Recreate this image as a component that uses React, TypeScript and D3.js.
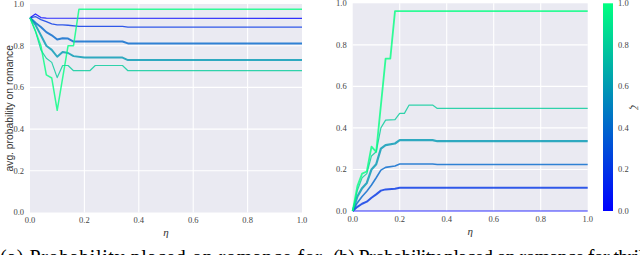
import React from "react";
import * as d3 from "d3";

// zeta value of each curve (colour), same in both panels
const zetas = [0, 0.2, 0.4, 0.6, 0.8, 1.0];
const tickValues = [0, 0.2, 0.4, 0.6, 0.8, 1.0];
const gridValues = [0.2, 0.4, 0.6, 0.8];

// (a) avg. probability on romance vs eta, one array per zeta: [eta, p]
const romanceZ0 = [[0, 0.934], [0.02, 0.952], [0.04, 0.935], [0.06, 0.932], [1.0, 0.931]];
const romanceZ2 = [[0, 0.934], [0.02, 0.94], [0.04, 0.925], [0.06, 0.915], [0.08, 0.905], [0.1, 0.9], [0.12, 0.9], [0.14, 0.898], [0.18, 0.893], [0.34, 0.893], [0.36, 0.889], [1.0, 0.889]];
const romanceZ4 = [[0, 0.934], [0.02, 0.91], [0.04, 0.89], [0.06, 0.865], [0.08, 0.85], [0.1, 0.83], [0.12, 0.836], [0.14, 0.834], [0.16, 0.82], [0.34, 0.82], [0.36, 0.811], [1.0, 0.811]];
const romanceZ6 = [[0, 0.934], [0.02, 0.9], [0.04, 0.85], [0.06, 0.8], [0.08, 0.78], [0.1, 0.747], [0.12, 0.77], [0.14, 0.765], [0.16, 0.75], [0.2, 0.743], [0.34, 0.743], [0.36, 0.731], [1.0, 0.731]];
const romanceZ8 = [[0, 0.934], [0.02, 0.87], [0.04, 0.78], [0.06, 0.74], [0.08, 0.72], [0.1, 0.647], [0.12, 0.705], [0.14, 0.705], [0.16, 0.68], [0.22, 0.68], [0.24, 0.705], [0.34, 0.705], [0.36, 0.68], [1.0, 0.68]];
const romanceZ10 = [[0, 0.934], [0.02, 0.87], [0.04, 0.8], [0.06, 0.66], [0.08, 0.645], [0.1, 0.49], [0.14, 0.8], [0.16, 0.8], [0.18, 0.975], [1.0, 0.975]];

// (b) probability placed on romance for thriller
const thrillerZ0 = [[0, 0], [1.0, 0]];
const thrillerZ2 = [[0, 0], [0.02, 0.02], [0.04, 0.035], [0.06, 0.045], [0.08, 0.064], [0.1, 0.08], [0.12, 0.098], [0.14, 0.104], [0.18, 0.107], [0.2, 0.112], [1.0, 0.112]];
const thrillerZ4 = [[0, 0], [0.02, 0.04], [0.04, 0.07], [0.06, 0.095], [0.08, 0.125], [0.1, 0.16], [0.12, 0.197], [0.14, 0.21], [0.18, 0.217], [0.2, 0.226], [0.34, 0.226], [0.36, 0.224], [1.0, 0.224]];
const thrillerZ6 = [[0, 0], [0.02, 0.07], [0.04, 0.11], [0.06, 0.135], [0.08, 0.2], [0.1, 0.225], [0.12, 0.3], [0.14, 0.317], [0.18, 0.325], [0.2, 0.341], [0.34, 0.341], [0.36, 0.336], [1.0, 0.336]];
const thrillerZ8 = [[0, 0], [0.02, 0.1], [0.04, 0.16], [0.06, 0.18], [0.08, 0.265], [0.1, 0.285], [0.12, 0.4], [0.14, 0.4375], [0.18, 0.44], [0.2, 0.47], [0.22, 0.47], [0.24, 0.51], [0.34, 0.51], [0.36, 0.494], [1.0, 0.494]];
const thrillerZ10 = [[0, 0], [0.02, 0.12], [0.04, 0.18], [0.06, 0.19], [0.08, 0.31], [0.1, 0.285], [0.14, 0.734], [0.16, 0.734], [0.18, 0.962], [1.0, 0.962]];

const romanceSeries = [romanceZ0, romanceZ2, romanceZ4, romanceZ6, romanceZ8, romanceZ10];
const thrillerSeries = [thrillerZ0, thrillerZ2, thrillerZ4, thrillerZ6, thrillerZ8, thrillerZ10];

const winter = d3.scaleLinear<string>().domain([0, 1]).range(["#0000ff", "#00ff80"]);
const serif = "'Liberation Serif', 'DejaVu Serif', serif";

function Panel({ x0, x1, y0, y1, series, widths, yLabel }) {
  const x = d3.scaleLinear().domain([0, 1]).range([x0, x1]);
  const y = d3.scaleLinear().domain([0, 1]).range([y1, y0]);
  const line = d3.line().x(d => x(d[0])).y(d => y(d[1]));
  return (
    <g>
      <rect x={x0} y={y0} width={x1 - x0} height={y1 - y0} fill="#eaeaf2" />
      {gridValues.map(v => (
        <g key={v}>
          <line x1={x(v)} x2={x(v)} y1={y0} y2={y1} stroke="#fff" strokeWidth={1.1} />
          <line x1={x0} x2={x1} y1={y(v)} y2={y(v)} stroke="#fff" strokeWidth={1.1} />
        </g>
      ))}
      {series.map((s, i) => (
        <path key={i} d={line(s)} fill="none" stroke={winter(zetas[i])} strokeOpacity={0.8}
          strokeWidth={widths[i]} strokeLinejoin="round" />
      ))}
      {tickValues.map(v => (
        <text key={"y" + v} x={x0 - 6} y={y(v)} dy="0.33em" textAnchor="end"
          fontFamily={serif} fontSize={8.5} fill="#444">{v.toFixed(1)}</text>
      ))}
      {tickValues.map(v => (
        <text key={"x" + v} x={x(v)} y={y1 + 8} dy="0.33em" textAnchor="middle"
          fontFamily={serif} fontSize={8.5} fill="#444">{v.toFixed(1)}</text>
      ))}
      <text x={(x0 + x1) / 2} y={y1 + 20} dy="0.33em" textAnchor="middle"
        fontFamily={serif} fontStyle="italic" fontSize={11} fill="#333">η</text>
      {yLabel && (
        <text transform={`translate(${x0 - 21},${(y0 + y1) / 2}) rotate(-90)`} textAnchor="middle"
          dy="0.35em" fontFamily="'Liberation Sans', Arial, sans-serif" fontSize={10.3} fill="#333">{yLabel}</text>
      )}
    </g>
  );
}

export default function App() {
  const cb = { x: 603, w: 10, y0: 3.3, y1: 211 };
  const cy = d3.scaleLinear().domain([0, 1]).range([cb.y1, cb.y0]);
  return (
    <svg width={640} height={255} style={{ position: "absolute", left: 0, top: 0, background: "#fff" }}>
      <defs>
        <linearGradient id="winter" x1="0" y1="1" x2="0" y2="0">
          <stop offset="0%" stopColor={winter(0)} />
          <stop offset="100%" stopColor={winter(1)} />
        </linearGradient>
      </defs>
      <Panel x0={30} x1={302} y0={4} y1={212.5} series={romanceSeries}
        widths={[1.3, 1.3, 2, 2, 1.2, 1.5]} yLabel="avg. probability on romance" />
      <Panel x0={352.7} x1={587.7} y0={3.3} y1={211} series={thrillerSeries}
        widths={[1.2, 2, 1.6, 2.2, 1.2, 1.8]} yLabel={null} />
      <rect x={cb.x} y={cb.y0} width={cb.w} height={cb.y1 - cb.y0} fill="url(#winter)" />
      {tickValues.map(v => (
        <text key={v} x={cb.x + 15} y={cy(v)} dy="0.33em" fontFamily={serif} fontSize={8.5} fill="#444">
          {v.toFixed(1)}
        </text>
      ))}
      <text transform={`translate(635,${(cb.y0 + cb.y1) / 2}) rotate(90)`} textAnchor="middle" dy="0.35em"
        fontFamily={serif} fontStyle="italic" fontSize={11} fill="#333">ζ</text>
      <text x={0} y={264} fontFamily={serif} fontSize={20} textLength={322} lengthAdjust="spacing" fill="#000">
        (a) Probability placed on romance for
      </text>
      <text x={333} y={264} fontFamily={serif} fontSize={20} textLength={330} lengthAdjust="spacing" fill="#000">
        (b) Probability placed on romance for thriller
      </text>
    </svg>
  );
}
